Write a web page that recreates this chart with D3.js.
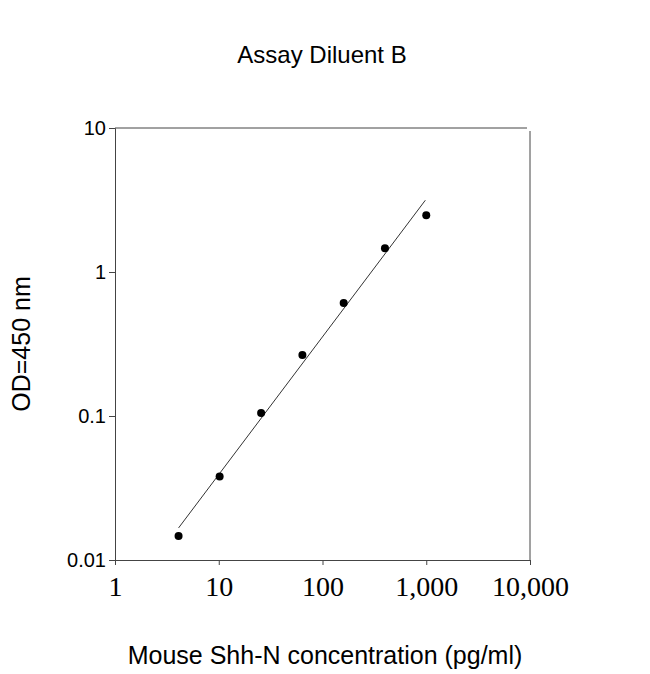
<!DOCTYPE html>
<html><head><meta charset="utf-8">
<script src="https://cdn.jsdelivr.net/npm/d3@7"></script>
<style>body{margin:0;background:#fff}</style></head>
<body><svg id="c" width="650" height="674"></svg>
<script>
const concentrations = [4.1, 10.2, 25.6, 64, 160, 400, 1000];
const odValues = [0.0147, 0.038, 0.105, 0.265, 0.61, 1.46, 2.48];
const fitX = [4.1, 980];
const fitY = [0.0167, 3.15];
const xTicks = [1, 10, 100, 1000, 10000];
const yTicks = [0.01, 0.1, 1, 10];

const svg = d3.select("#c");
const L=115,R=530,T=128,B=560;
const x = d3.scaleLog().domain([1,10000]).range([L,R]);
const y = d3.scaleLog().domain([0.01,10]).range([B,T]);

svg.append("text").attr("x",322).attr("y",63).attr("text-anchor","middle")
  .style("font-family","Liberation Sans, Arial").style("font-size","24px").text("Assay Diluent B");

const gx = svg.append("g").attr("transform",`translate(0,${B})`)
  .call(d3.axisBottom(x).tickValues(xTicks).tickSize(5).tickFormat(d3.format(",")));
gx.select(".domain").attr("stroke","#444");
gx.selectAll("line").attr("stroke","#444");
gx.selectAll("text").style("font-family","Liberation Serif, Times New Roman").style("font-size","28px").attr("fill","#000").attr("dy","1.0em");

const gy = svg.append("g").attr("transform",`translate(${L},0)`)
  .call(d3.axisLeft(y).tickValues(yTicks).tickSize(6).tickFormat(d=>String(d)));
gy.select(".domain").attr("stroke","#444");
gy.selectAll("line").attr("stroke","#444");
gy.selectAll("text").style("font-family","Liberation Sans, Arial").style("font-size","20px").attr("fill","#000");

svg.append("line").attr("x1",L).attr("x2",R-3).attr("y1",T).attr("y2",T).attr("stroke","#444");
svg.append("line").attr("x1",R).attr("x2",R).attr("y1",T+3).attr("y2",B).attr("stroke","#444");

svg.append("line").attr("x1",x(fitX[0])).attr("y1",y(fitY[0])).attr("x2",x(fitX[1])).attr("y2",y(fitY[1]))
  .attr("stroke","#333").attr("stroke-width",1);

svg.selectAll("circle.p").data(concentrations).enter().append("circle")
  .attr("cx",d=>x(d)).attr("cy",(d,i)=>y(odValues[i])).attr("r",4).attr("fill","#000");

svg.append("text").attr("x",325).attr("y",664).attr("text-anchor","middle")
  .style("font-family","Liberation Sans, Arial").style("font-size","25px").text("Mouse Shh-N concentration (pg/ml)");
svg.append("text").attr("transform","translate(30,344) rotate(-90)").attr("text-anchor","middle")
  .style("font-family","Liberation Sans, Arial").style("font-size","25px").text("OD=450 nm");
</script></body></html>
